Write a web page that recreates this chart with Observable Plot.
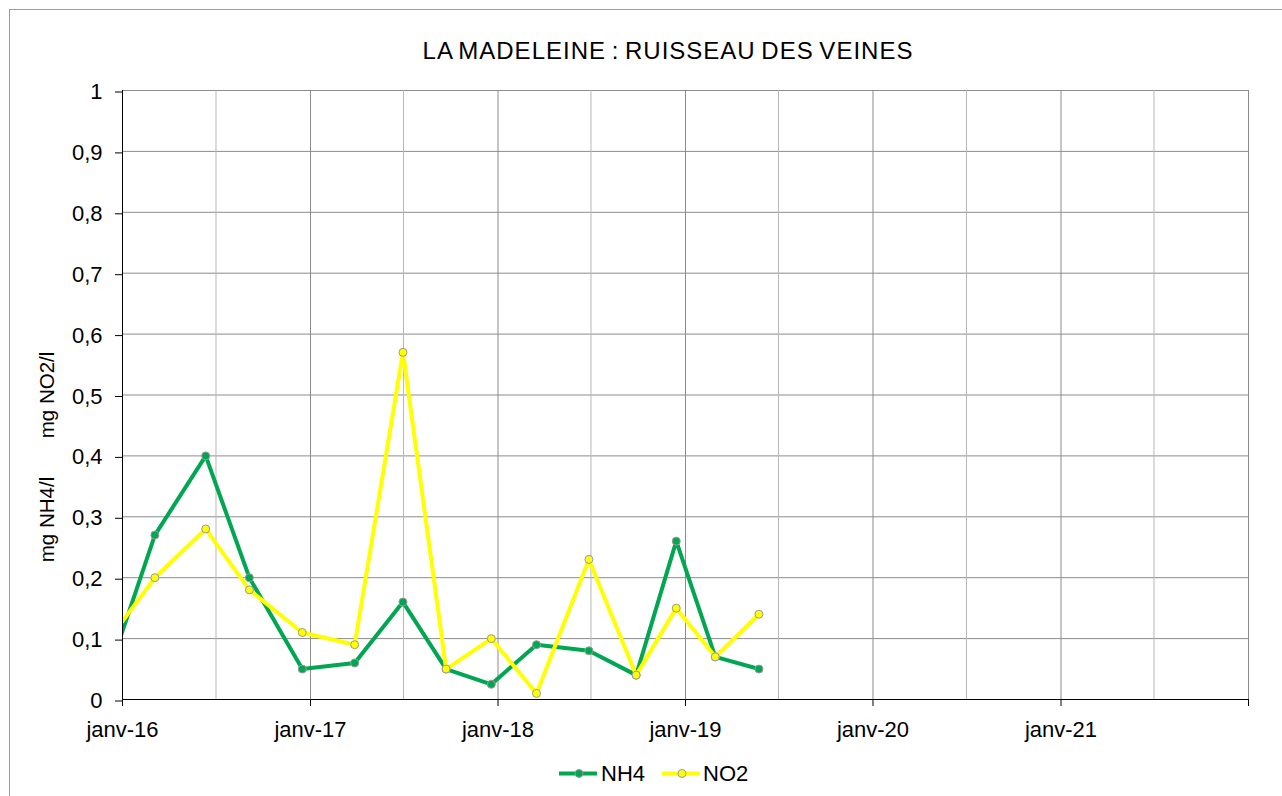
<!DOCTYPE html>
<html>
<head>
<meta charset="utf-8">
<script src="https://cdn.jsdelivr.net/npm/d3@7"></script>
<script src="https://cdn.jsdelivr.net/npm/@observablehq/plot@0.6"></script>
<style>
  html, body { margin: 0; padding: 0; background: #fff; }
  body { position: relative; width: 1282px; height: 796px; overflow: hidden; font-family: "Liberation Sans", Arial, sans-serif; color: #000; }
  #border { position: absolute; left: 9px; top: 9px; width: 1400px; height: 900px; border: 1.5px solid #9c9c9c; box-sizing: border-box; }
  #title { position: absolute; left: 668px; top: 39px; transform: translateX(-50%); white-space: nowrap; font-size: 24px; line-height: 24px; letter-spacing: 1px; word-spacing: -2px; }
  #chart { position: absolute; left: 0; top: 70px; }
  #legend { position: absolute; left: 559px; top: 760px; height: 28px; display: flex; align-items: center; font-size: 22px; line-height: 28px; }
  #legend svg { display: block; }
</style>
</head>
<body>
<div id="border"></div>
<div id="title"></div>
<div id="chart"></div>
<div id="legend"></div>
<script>
const titleText = "LA MADELEINE : RUISSEAU DES VEINES";
const seriesNames = ["NH4", "NO2"];
const seriesColors = ["#00a651", "#ffff00"];
const yLabelParts = ["mg NH4/l", "mg NO2/l"];

// sampling dates (the first one lies before the axis start and is clipped)
const dates = ["2015-12-07", "2016-03-04", "2016-06-11", "2016-09-04", "2016-12-16", "2017-03-28",
               "2017-06-30", "2017-09-22", "2017-12-19", "2018-03-17", "2018-06-27", "2018-09-27",
               "2018-12-14", "2019-02-28", "2019-05-24"];
const nh4 = [0.05, 0.27, 0.40, 0.20, 0.05, 0.06, 0.16, 0.05, 0.025, 0.09, 0.08, 0.04, 0.26, 0.07, 0.05];
const no2 = [0.10, 0.20, 0.28, 0.18, 0.11, 0.09, 0.57, 0.05, 0.10, 0.01, 0.23, 0.04, 0.15, 0.07, 0.14];

const xDomain = ["2016-01-01", "2022-01-01"];
const xTicks = ["2016-01-01", "2017-01-01", "2018-01-01", "2019-01-01", "2020-01-01", "2021-01-01", "2022-01-01"];
const xTickLabels = ["janv-16", "janv-17", "janv-18", "janv-19", "janv-20", "janv-21", ""];
const gridJul = ["2016-07-01", "2017-07-01", "2018-07-01", "2019-07-01", "2020-07-01", "2021-07-01"];
const yTicks = [0, 0.1, 0.2, 0.3, 0.4, 0.5, 0.6, 0.7, 0.8, 0.9, 1];
const yTickLabels = ["0", "0,1", "0,2", "0,3", "0,4", "0,5", "0,6", "0,7", "0,8", "0,9", "1"];

const toDate = s => new Date(s);
const data = dates.map((d, i) => ({date: toDate(d), nh4: nh4[i], no2: no2[i]}));
const xTickDates = xTicks.map(toDate);

document.getElementById("title").textContent = titleText;

const chart = Plot.plot({
  width: 1282,
  height: 680,
  marginTop: 20,
  marginBottom: 51,
  marginLeft: 122,
  marginRight: 34,
  style: {fontFamily: '"Liberation Sans", Arial, sans-serif', fontSize: "22px", color: "#000", background: "transparent", overflow: "visible"},
  x: {type: "utc", domain: xDomain.map(toDate)},
  y: {domain: [0, 1]},
  marks: [
    Plot.gridY(yTicks, {stroke: "#8c8c8c", strokeOpacity: 1, strokeWidth: 1}),
    Plot.gridX(gridJul.map(toDate), {stroke: "#b8b8b8", strokeOpacity: 1, strokeWidth: 1}),
    Plot.gridX(xTickDates, {stroke: "#8c8c8c", strokeOpacity: 1, strokeWidth: 1}),
    Plot.lineY(data, {x: "date", y: "nh4", stroke: seriesColors[0], strokeWidth: 4, clip: true}),
    Plot.dot(data, {x: "date", y: "nh4", r: 4, fill: seriesColors[0], stroke: "#9a9a9a", strokeWidth: 1, clip: true}),
    Plot.lineY(data, {x: "date", y: "no2", stroke: seriesColors[1], strokeWidth: 4, clip: true}),
    Plot.dot(data, {x: "date", y: "no2", r: 4, fill: seriesColors[1], stroke: "#9a9a9a", strokeWidth: 1, clip: true}),
    Plot.ruleX([toDate(xDomain[0])], {stroke: "#000", strokeWidth: 1}),
    Plot.ruleY([0], {stroke: "#000", strokeWidth: 1}),
    Plot.axisY(yTicks, {
      tickSize: 7, tickPadding: 13, stroke: "#000", fill: "#000", fontSize: 22, dy: 1.5,
      tickFormat: d => yTickLabels[yTicks.indexOf(d)], label: null
    }),
    Plot.axisX(xTickDates, {
      tickSize: 7, tickPadding: 15, stroke: "#000", fill: "#000", fontSize: 22,
      tickFormat: d => xTickLabels[xTickDates.findIndex(t => +t === +d)], label: null
    }),
    Plot.text([yLabelParts[1]], {frameAnchor: "left", textAnchor: "middle", lineAnchor: "middle", rotate: -90, dx: -75, dy: 0, fontSize: "20.5px", fill: "#000", text: d => d}),
    Plot.text([yLabelParts[0]], {frameAnchor: "left", textAnchor: "middle", lineAnchor: "middle", rotate: -90, dx: -75, dy: 124.5, fontSize: "20.5px", fill: "#000", text: d => d})
  ]
});
document.getElementById("chart").appendChild(chart);

// legend
const legend = d3.select("#legend");
const legendGaps = [[0, 4], [17, 3]];
seriesNames.forEach((name, i) => {
  const svg = legend.append("svg").attr("width", 38).attr("height", 28)
    .style("margin-left", legendGaps[i][0] + "px").style("margin-right", legendGaps[i][1] + "px");
  svg.append("line").attr("x1", 0).attr("x2", 38).attr("y1", 13.5).attr("y2", 13.5)
    .attr("stroke", seriesColors[i]).attr("stroke-width", 4);
  svg.append("circle").attr("cx", 20).attr("cy", 13.5).attr("r", 4)
    .attr("fill", seriesColors[i]).attr("stroke", "#9a9a9a").attr("stroke-width", 1);
  legend.append("span").text(name);
});
</script>
</body>
</html>
